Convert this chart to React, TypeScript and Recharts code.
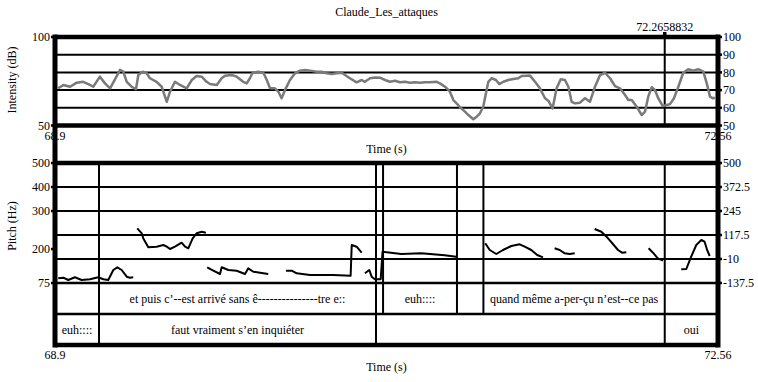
import React from 'react';
import { LineChart, Line, XAxis, YAxis, ReferenceLine, ReferenceArea, Label } from 'recharts';

const FONT = '"Liberation Serif", "Times New Roman", Times, serif';
const W = 758;
const H = 382;

const T_MIN = 68.9;
const T_MAX = 72.56;
const CURSOR_TIME = 72.2658832;

// ---- Intensity (dB) ----
const intensityTimes = [
  68.918, 68.946, 68.983, 69.02, 69.056, 69.093, 69.111, 69.148, 69.176, 69.204,
  69.231, 69.259, 69.277, 69.296, 69.323, 69.347, 69.36, 69.384, 69.406, 69.424,
  69.461, 69.489, 69.517, 69.535, 69.562, 69.59, 69.627, 69.655, 69.682, 69.71,
  69.737, 69.756, 69.793, 69.82, 69.838, 69.875, 69.903, 69.939, 69.958, 69.976,
  69.991, 70.022, 70.05, 70.069, 70.087, 70.114, 70.133, 70.151, 70.17, 70.197,
  70.225, 70.252, 70.28, 70.308, 70.345, 70.372, 70.4, 70.427, 70.455, 70.483,
  70.501, 70.528, 70.565, 70.593, 70.611, 70.639, 70.666, 70.694, 70.722, 70.749,
  70.777, 70.804, 70.832, 70.86, 70.887, 70.915, 70.942, 70.97, 71.007, 71.025,
  71.053, 71.08, 71.099, 71.117, 71.136, 71.163, 71.182, 71.209, 71.228, 71.246,
  71.264, 71.279, 71.292, 71.311, 71.334, 71.353, 71.375, 71.402, 71.43, 71.458,
  71.476, 71.504, 71.522, 71.55, 71.577, 71.605, 71.623, 71.647, 71.669, 71.692,
  71.715, 71.734, 71.752, 71.771, 71.798, 71.826, 71.853, 71.881, 71.909, 71.936,
  71.964, 71.991, 72.019, 72.047, 72.065, 72.084, 72.111, 72.139, 72.157, 72.175,
  72.194, 72.212, 72.23, 72.255, 72.277, 72.295, 72.317, 72.341, 72.368, 72.396,
  72.424, 72.451, 72.479, 72.498, 72.516, 72.531, 72.543,
];
const intensityDb = [
  71.0, 72.9, 71.9, 74.2, 74.7, 72.9, 71.9, 77.6, 73.8, 71.0,
  76.1, 81.4, 80.4, 74.7, 71.9, 70.5, 78.5, 80.4, 79.5, 76.7,
  74.7, 71.9, 63.4, 69.1, 74.7, 72.9, 71.0, 75.7, 78.0, 77.6,
  74.7, 73.4, 72.9, 76.7, 78.1, 78.5, 77.6, 74.7, 73.8, 76.7,
  79.8, 80.4, 79.8, 75.7, 71.0, 71.0, 69.1, 65.4, 70.1, 75.7,
  79.5, 81.0, 81.4, 81.0, 80.4, 80.4, 79.5, 79.1, 79.5, 79.8,
  78.5, 76.7, 74.4, 75.7, 74.7, 76.7, 77.1, 77.0, 75.7, 74.7,
  75.3, 74.4, 74.7, 74.2, 74.4, 74.2, 74.4, 74.4, 74.7, 73.8,
  71.9, 69.1, 64.4, 62.5, 60.3, 57.8, 55.9, 53.5, 55.0, 56.9,
  60.6, 68.2, 74.7, 76.7, 75.7, 73.4, 74.7, 75.7, 76.3, 76.7,
  78.0, 78.1, 78.2, 74.7, 71.0, 65.4, 64.0, 59.7, 71.0, 76.1,
  75.7, 71.9, 63.4, 62.5, 62.9, 65.4, 63.4, 71.9, 78.5, 79.8,
  76.7, 72.3, 71.0, 67.2, 64.4, 64.4, 60.6, 55.9, 57.8, 66.3,
  71.6, 70.1, 65.4, 61.0, 61.6, 62.1, 65.4, 71.9, 79.8, 81.8,
  81.0, 81.8, 80.4, 73.8, 66.3, 65.4, 65.7,
];
const intensityLeftTicks = [100, 50];
const intensityRightTicks = [100, 90, 80, 70, 60, 50];
const intensityGrid = [90, 80, 70, 60];

// ---- Pitch (right-hand scale values; null = unvoiced gap) ----
const pitchTimes = [
  68.918, 68.946, 68.973, 69.01, 69.047, 69.093, 69.139, 69.167, 69.194, 69.222, 69.244, 69.268, 69.296, 69.314, 69.332,
  69.343,
  69.354, 69.379, 69.387, 69.415, 69.461, 69.498, 69.517, 69.535, 69.562, 69.599, 69.618, 69.636, 69.66, 69.682, 69.71, 69.733,
  69.736,
  69.74, 69.774, 69.811, 69.82, 69.857, 69.903, 69.949, 69.967, 69.995, 70.032, 70.077,
  70.12,
  70.175, 70.207, 70.234, 70.308, 70.436, 70.532, 70.538, 70.565, 70.593,
  70.6,
  70.611, 70.635, 70.648, 70.666, 70.698, 70.708, 70.812, 70.922, 71.051, 71.115,
  71.2,
  71.275, 71.3, 71.336, 71.373, 71.419, 71.465, 71.493, 71.529, 71.562, 71.594,
  71.63,
  71.658, 71.686, 71.714, 71.741, 71.769,
  71.82,
  71.879, 71.916, 71.953, 71.98, 72.008, 72.03, 72.054,
  72.1,
  72.177, 72.201, 72.228, 72.256,
  72.3,
  72.357, 72.385, 72.412, 72.44, 72.468, 72.486, 72.5, 72.514,
];
const pitchValues: (number | null)[] = [
  -112.5, -109.3, -121.6, -107.2, -121.6, -117.8, -107.2, -117.8, -121.6, -68.4, -54.1, -68.4, -104.0, -109.3, -107.2,
  null,
  153.1, 126.5, 100.0, 52.2, 55.4, 64.4, 55.4, 43.1, 55.4, 76.6, 55.4, 46.9, 100.0, 126.5, 135.0, 129.7,
  null,
  -54.1, -72.2, -89.7, -54.1, -68.4, -72.2, -89.7, -59.4, -77.5, -82.8, -89.7,
  null,
  -72.2, -72.2, -86.0, -95.0, -95.0, -98.7, 64.4, 55.4, 23.5,
  null,
  -86.0, -68.4, -104.0, -117.8, -117.8, 28.8, 16.6, 20.3, 9.7, 2.2,
  null,
  73.4, 37.8, 16.6, 37.8, 59.1, 68.1, 55.4, 37.8, 11.3, -1.0,
  null,
  46.9, 37.8, 20.3, 16.6, 20.3,
  null,
  149.4, 135.0, 100.0, 69.7, 37.8, 23.5, 25.6,
  null,
  46.9, 23.5, -6.3, -19.0,
  null,
  -64.7, -63.1, 2.2, 64.4, 90.9, 81.9, 37.8, 6.0,
];
const pitchRightTicks = [500, 372.5, 245, 117.5, -10, -137.5];
const pitchLeftTickValues = [500, 372.5, 245, 43, -137.5];
const pitchLeftTickLabels = ['500', '400', '300', '200', '75'];
const pitchGrid = [372.5, 245, 117.5, -10, -137.5];

// ---- TextGrid tiers ----
const tier1Bounds = [68.9, 69.143, 70.672, 70.711, 71.119, 71.265, 72.266, 72.56];
const tier1Labels = [
  '',
  'et puis c\u2019--est arriv\u00e9 sans \u00ea---------------tre e::',
  '',
  'euh::::',
  '',
  'quand m\u00eame a-per-\u00e7u n\u2019est--ce pas',
  '',
];
const tier2Bounds = [68.9, 69.143, 70.672, 72.266, 72.56];
const tier2Labels = ['euh::::', 'faut vraiment s\u2019en inqui\u00e9ter', '', 'oui'];

// ---- layout ----
const INT_TOP = 37;
const INT_BOTTOM = 125.5;
const PITCH_TOP = 163;
const PITCH_BOTTOM = 283;
const TIER_BOTTOM = 345;
const LEFT_W = 55;
const RIGHT_W = 40;

const textProps = { fontFamily: FONT, fontSize: 12, fill: '#000' };

const makeTick = (anchor: 'start' | 'end' | 'middle', dy: string, map?: Record<string, string>) =>
  (props: any) => {
    const { x, y, payload } = props;
    const key = String(payload.value);
    const txt = map && map[key] !== undefined ? map[key] : key;
    return (
      <text x={x} y={y} dy={dy} textAnchor={anchor} {...textProps} style={{ fontFamily: FONT }}>
        {txt}
      </text>
    );
  };

const pitchLeftMap: Record<string, string> = {};
pitchLeftTickValues.forEach((v, i) => {
  pitchLeftMap[String(v)] = pitchLeftTickLabels[i];
});

const tickLineStyle = { stroke: '#000', strokeWidth: 2.5 };

const layer: React.CSSProperties = { position: 'absolute', left: 0, top: 0 };

const rotated = (x: number, y: number): React.CSSProperties => ({
  position: 'absolute',
  left: x,
  top: y,
  transform: 'translate(-50%, -50%) rotate(-90deg)',
  whiteSpace: 'nowrap',
  fontFamily: FONT,
  fontSize: 12,
  lineHeight: '14px',
  color: '#000',
});

export default function App() {
  const intensityData = intensityTimes.map((t, i) => ({ t, db: intensityDb[i] }));
  const pitchData = pitchTimes.map((t, i) => ({ t, hz: pitchValues[i] }));
  const frameData = [{ t: T_MIN, v: 0 }, { t: T_MAX, v: 1 }];
  const allBounds = Array.from(
    new Set([...tier1Bounds.slice(1, -1), ...tier2Bounds.slice(1, -1)])
  );

  return (
    <div style={{ position: 'absolute', left: 0, top: 0, width: W, height: H, background: '#fff', overflow: 'hidden' }}>
      <div
        style={{
          position: 'absolute', left: LEFT_W, width: W - LEFT_W - RIGHT_W, top: 5, textAlign: 'center',
          fontFamily: FONT, fontSize: 12, lineHeight: '14px', color: '#000',
        }}
      >
        Claude_Les_attaques
      </div>
      <div style={rotated(12, 80)}>Intensity (dB)</div>
      <div style={rotated(12, 226)}>Pitch (Hz)</div>

      {/* Intensity panel */}
      <div style={layer}>
        <LineChart width={W} height={H} data={intensityData}
          margin={{ top: 0, right: 0, left: 0, bottom: H - INT_BOTTOM - 30 }}>
          <XAxis dataKey="t" type="number" domain={[T_MIN, T_MAX]} ticks={[T_MIN, T_MAX]} interval={0}
            height={30} axisLine={false} tickLine={false} tickSize={3} tickMargin={3}
            tick={makeTick('middle', '0.71em')} allowDataOverflow>
            <Label value="Time (s)" position="insideBottom" offset={3} {...textProps} />
          </XAxis>
          <XAxis xAxisId="top" orientation="top" dataKey="t" type="number" domain={[T_MIN, T_MAX]}
            ticks={[CURSOR_TIME]} interval={0} height={INT_TOP} axisLine={false} tickSize={5} tickMargin={1.5}
            tickLine={{ stroke: '#000', strokeWidth: 3.5 }} tick={makeTick('middle', '0')} allowDataOverflow />
          <YAxis domain={[50, 100]} ticks={intensityLeftTicks} interval={0} width={LEFT_W} axisLine={false}
            tickSize={4} tickMargin={1} tickLine={tickLineStyle} tick={makeTick('end', '0.35em')} allowDataOverflow />
          <YAxis yAxisId="r" orientation="right" domain={[50, 100]} ticks={intensityRightTicks} interval={0}
            width={RIGHT_W} axisLine={false} tickSize={4} tickMargin={1} tickLine={tickLineStyle}
            tick={makeTick('start', '0.35em')} allowDataOverflow />
          {intensityGrid.map((v) => (
            <ReferenceLine key={v} y={v} stroke="#000" strokeWidth={2} />
          ))}
          <ReferenceLine y={100} stroke="#000" strokeWidth={4.5} />
          <ReferenceLine y={50} stroke="#000" strokeWidth={4.5} />
          <ReferenceLine x={CURSOR_TIME} stroke="#000" strokeWidth={2} />
          <Line dataKey="db" type="linear" stroke="#7a7a7a" strokeWidth={2.5} dot={false}
            isAnimationActive={false} strokeLinejoin="round" />
        </LineChart>
      </div>

      {/* Pitch panel */}
      <div style={layer}>
        <LineChart width={W} height={H} data={pitchData}
          margin={{ top: PITCH_TOP, right: 0, left: 0, bottom: H - PITCH_BOTTOM }}>
          <XAxis dataKey="t" type="number" domain={[T_MIN, T_MAX]} hide height={0} allowDataOverflow />
          <YAxis domain={[-137.5, 500]} ticks={pitchLeftTickValues} interval={0} width={LEFT_W} axisLine={false}
            tickSize={4} tickMargin={1} tickLine={tickLineStyle} tick={makeTick('end', '0.35em', pitchLeftMap)}
            allowDataOverflow />
          <YAxis yAxisId="r" orientation="right" domain={[-137.5, 500]} ticks={pitchRightTicks} interval={0}
            width={RIGHT_W} axisLine={false} tickSize={4} tickMargin={1} tickLine={tickLineStyle}
            tick={makeTick('start', '0.35em')} allowDataOverflow />
          {pitchGrid.map((v) => (
            <ReferenceLine key={v} y={v} stroke="#000" strokeWidth={v === -137.5 ? 2.5 : 2} />
          ))}
          <ReferenceLine y={500} stroke="#000" strokeWidth={4.5} />
          {allBounds.map((b) => (
            <ReferenceLine key={b} x={b} stroke="#000" strokeWidth={2} />
          ))}
          <Line dataKey="hz" type="linear" stroke="#000" strokeWidth={2} dot={false} connectNulls={false}
            isAnimationActive={false} strokeLinejoin="round" />
        </LineChart>
      </div>

      {/* Tiers */}
      <div style={layer}>
        <LineChart width={W} height={H} data={frameData}
          margin={{ top: PITCH_BOTTOM, right: RIGHT_W, left: LEFT_W, bottom: 0 }}>
          <XAxis dataKey="t" type="number" domain={[T_MIN, T_MAX]} ticks={[T_MIN, T_MAX]} interval={0}
            height={H - TIER_BOTTOM} axisLine={false} tickLine={false} tickSize={3} tickMargin={2.5}
            tick={makeTick('middle', '0.71em')} allowDataOverflow>
            <Label value="Time (s)" position="insideBottom" offset={11} {...textProps} />
          </XAxis>
          <YAxis domain={[0, 2]} hide width={0} allowDataOverflow />
          {tier1Labels.map((lab, i) => (
            <ReferenceArea key={'a' + i} x1={tier1Bounds[i]} x2={tier1Bounds[i + 1]} y1={1} y2={2}
              fill="#fff" fillOpacity={0} stroke="none" ifOverflow="visible"
              label={lab ? { value: lab, position: 'center', ...textProps } : undefined} />
          ))}
          {tier2Labels.map((lab, i) => (
            <ReferenceArea key={'b' + i} x1={tier2Bounds[i]} x2={tier2Bounds[i + 1]} y1={0} y2={1}
              fill="#fff" fillOpacity={0} stroke="none" ifOverflow="visible"
              label={lab ? { value: lab, position: 'center', ...textProps } : undefined} />
          ))}
          <ReferenceLine y={1} stroke="#000" strokeWidth={2.5} />
          <ReferenceLine y={0} stroke="#000" strokeWidth={4.5} />
          {tier1Bounds.slice(1, -1).map((b) => (
            <ReferenceLine key={'s1' + b} segment={[{ x: b, y: 1 }, { x: b, y: 2 }]} stroke="#000" strokeWidth={2} />
          ))}
          {tier2Bounds.slice(1, -1).map((b) => (
            <ReferenceLine key={'s2' + b} segment={[{ x: b, y: 0 }, { x: b, y: 1 }]} stroke="#000" strokeWidth={2} />
          ))}
        </LineChart>
      </div>

      {/* Frame */}
      <div style={layer}>
        <LineChart width={W} height={H} data={frameData}
          margin={{ top: INT_TOP, right: RIGHT_W, left: LEFT_W, bottom: H - TIER_BOTTOM }}>
          <XAxis dataKey="t" type="number" domain={[T_MIN, T_MAX]} hide height={0} allowDataOverflow />
          <YAxis domain={[0, 1]} hide width={0} allowDataOverflow />
          <ReferenceLine x={T_MIN} stroke="#000" strokeWidth={5} strokeLinecap="square" />
          <ReferenceLine x={T_MAX} stroke="#000" strokeWidth={5} strokeLinecap="square" />
        </LineChart>
      </div>
    </div>
  );
}
